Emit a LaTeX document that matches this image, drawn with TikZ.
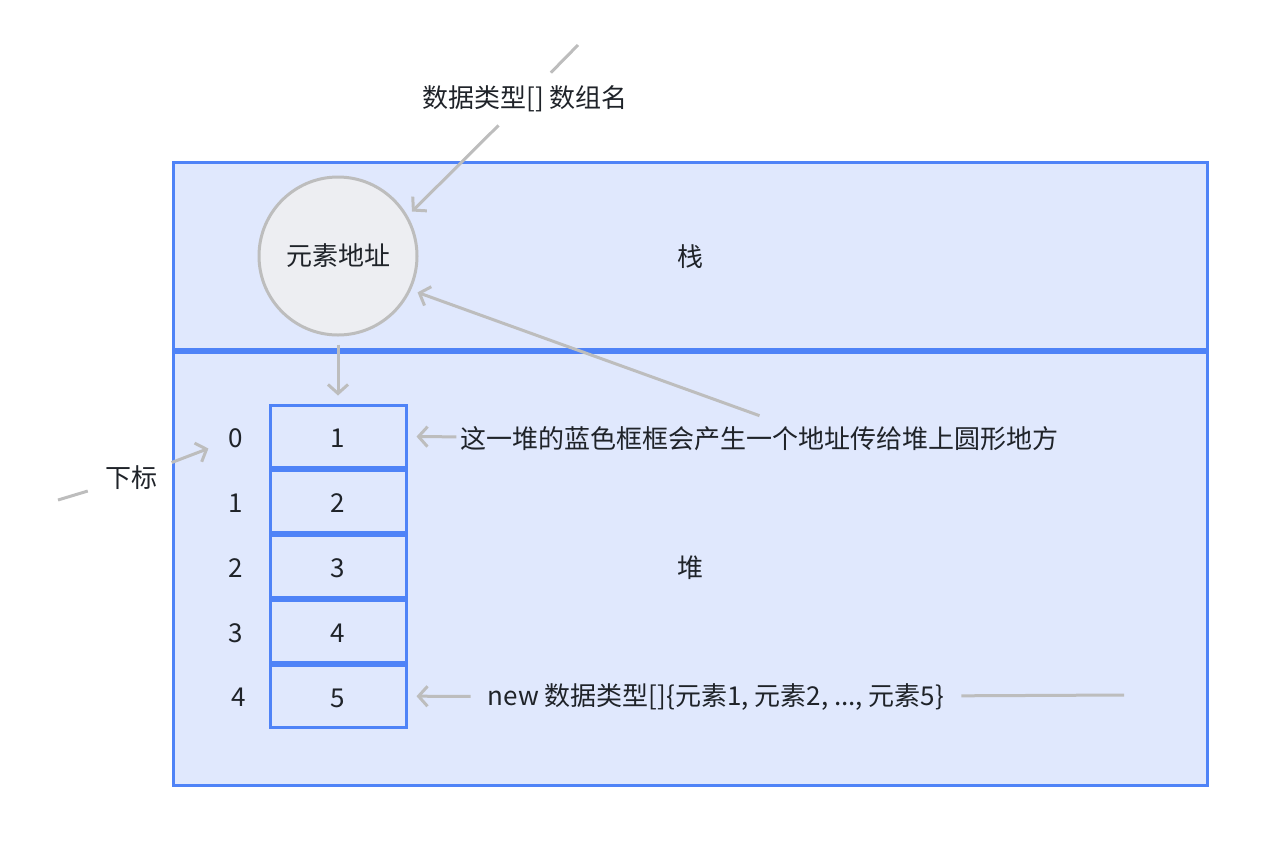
\documentclass[tikz,border=0pt]{standalone}
\usepackage{fontspec}
\setmainfont{Noto Sans CJK SC}
\usetikzlibrary{arrows.meta}
\definecolor{bblue}{HTML}{4F83F7}
\definecolor{bfill}{HTML}{E0E8FD}
\definecolor{agray}{HTML}{BDBDBD}
\definecolor{cfill}{HTML}{EDEEF2}
\definecolor{txt}{HTML}{1F2329}
\begin{document}
\begin{tikzpicture}[x=1pt,y=-1pt,
  every node/.style={font=\fontsize{26}{30}\selectfont, text=txt},
  region/.style={draw=bblue, line width=3pt, fill=bfill, minimum width=1034pt, inner sep=0pt, outer sep=0pt},
  cell/.style={draw=bblue, line width=3pt, fill=bfill, minimum width=136pt, minimum height=62pt, inner sep=0pt, text height=22pt, text depth=0pt},
  conn/.style={draw=agray, line width=3pt, -{Straight Barb[length=9pt,width=20pt]}},
  plainline/.style={draw=agray, line width=3pt}
]
\useasboundingbox (0,0) rectangle (1279,847);
\node[region, minimum height=189pt] (stack) at (690,256.5) {栈};
\node[region, minimum height=434pt] (heap) at (690,568) {堆};
\draw[bblue, line width=6pt] (stack.south west) -- (stack.south east);

\node[circle, draw=agray, line width=3pt, fill=cfill, minimum size=158pt, inner sep=0pt] (addr) at (338,256) {元素地址};

\node[cell] (c1) at (338,436) {1};
\node[cell] (c2) at (338,501) {2};
\node[cell] (c3) at (338,566) {3};
\node[cell] (c4) at (338,631) {4};
\node[cell] (c5) at (338,696) {5};

\node (i0) at (236,438) {0};
\node (i1) at (236,503) {1};
\node (i2) at (236,568) {2};
\node (i3) at (236,633) {3};
\node (i4) at (239,697) {4};

% declaration label
\coordinate (declfree) at (578,45);
\node[inner xsep=0pt, inner ysep=13pt] (decl) at (525,99) {数据类型[] 数组名};
\draw[plainline] (declfree) -- (decl);
\draw[conn, shorten >=6pt] (decl) -- (addr.30);

% down arrow circle -> first cell
\draw[conn, shorten <=8pt, shorten >=8pt] (addr) -- (c1);

% hint text
\node[inner xsep=4pt, inner ysep=11pt] (hint) at (759.5,439) {这一堆的蓝色框框会产生一个地址传给堆上圆形地方};
\draw[conn, shorten >=9pt] (hint) -- (c1);
\draw[conn, shorten >=7pt] (hint.north) -- (addr.-25);

% subscript label
\coordinate (subfree) at (58,500);
\node[inner xsep=17pt] (sub) at (131,478) {下标};
\draw[plainline] (subfree) -- (sub);
\draw[conn, shorten >=18pt] (sub) -- (i0);

% new expression
\coordinate (newfree) at (1124,695);
\node[inner xsep=17pt] (newt) at (716,697) {new 数据类型[]\{元素1, 元素2, ..., 元素5\}};
\draw[plainline] (newfree) -- (newt);
\draw[conn, shorten >=9pt] (newt) -- (c5);
\end{tikzpicture}
\end{document}
